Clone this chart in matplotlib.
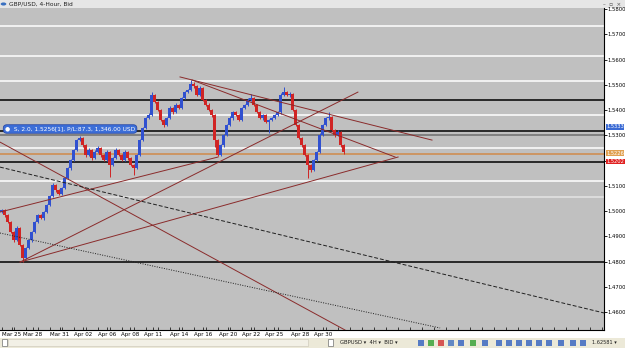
import matplotlib
matplotlib.use("Agg")
import matplotlib.pyplot as plt
import matplotlib.patches as mpatches
import matplotlib.transforms as mtransforms
import numpy as np

# ---------------- data ----------------
closes = [1.5004, 1.4984, 1.4956, 1.4917, 1.4885, 1.4933, 1.4865, 1.4814, 1.4854, 1.4885,
          1.4917, 1.4956, 1.4984, 1.4972, 1.4996, 1.5024, 1.5059, 1.5103, 1.5083, 1.5067,
          1.5091, 1.5131, 1.5170, 1.5202, 1.5242, 1.5281, 1.5289, 1.5261, 1.5222, 1.5242,
          1.5210, 1.5234, 1.5250, 1.5222, 1.5202, 1.5234, 1.5182, 1.5210, 1.5242, 1.5222,
          1.5202, 1.5234, 1.5210, 1.5182, 1.5170, 1.5222, 1.5281, 1.5329, 1.5368, 1.5380,
          1.5460, 1.5432, 1.5400, 1.5360, 1.5341, 1.5368, 1.5408, 1.5392, 1.5420, 1.5408,
          1.5448, 1.5471, 1.5479, 1.5503, 1.5495, 1.5459, 1.5487, 1.5440, 1.5420, 1.5400,
          1.5380, 1.5281, 1.5222, 1.5261, 1.5301, 1.5341, 1.5368, 1.5392, 1.5380, 1.5360,
          1.5408, 1.5420, 1.5440, 1.5448, 1.5420, 1.5392, 1.5368, 1.5380, 1.5352, 1.5360,
          1.5368, 1.5380, 1.5392, 1.5459, 1.5471, 1.5459, 1.5463, 1.5400, 1.5341, 1.5289,
          1.5261, 1.5222, 1.5182, 1.5162, 1.5202, 1.5234, 1.5301, 1.5341, 1.5368, 1.5372,
          1.5321, 1.5301, 1.5313, 1.5261, 1.5234]
first_open = 1.4996
up_wick_pips = [6, 4, 3, 5, 3, 8, 4, 3, 5, 4,
                3, 6, 4, 5, 3, 4, 6, 8, 5, 4,
                3, 4, 5, 3, 4, 6, 7, 5, 4, 6,
                5, 8, 6, 4, 3, 6, 5, 4, 7, 3,
                5, 6, 4, 3, 4, 3, 5, 4, 6, 8,
                10, 5, 4, 6, 3, 5, 7, 4, 6, 5,
                4, 6, 5, 16, 8, 6, 9, 5, 4, 6,
                3, 5, 4, 6, 5, 4, 7, 5, 6, 4,
                5, 4, 6, 15, 5, 4, 6, 5, 4, 3,
                5, 4, 6, 8, 20, 6, 9, 4, 3, 5,
                4, 6, 5, 4, 6, 5, 7, 4, 5, 20,
                6, 5, 8, 4, 5]
down_wick_pips = [4, 6, 5, 4, 6, 3, 5, 16, 4, 5,
                  6, 3, 5, 4, 6, 5, 3, 4, 6, 5,
                  4, 5, 3, 6, 4, 3, 5, 6, 8, 4,
                  6, 5, 4, 7, 5, 4, 47, 5, 3, 6,
                  4, 5, 6, 3, 27, 4, 3, 5, 4, 3,
                  4, 6, 5, 4, 8, 3, 5, 6, 4, 5,
                  3, 4, 5, 4, 6, 5, 4, 5, 6, 4,
                  8, 28, 5, 4, 6, 5, 4, 6, 5, 4,
                  3, 5, 4, 5, 6, 4, 5, 6, 4, 43,
                  5, 4, 3, 6, 4, 5, 6, 4, 5, 4,
                  6, 5, 51, 8, 5, 4, 3, 5, 4, 6,
                  5, 6, 4, 7, 8]

# horizontal level lines (price, colour)
h_levels = [1.5733, 1.5614, 1.5515, 1.5440, 1.5380, 1.5317, 1.5301,
            1.5250, 1.5226, 1.5194, 1.5119, 1.5055, 1.4798]
h_colors = ['white', 'white', 'white', 'black', 'white', 'black', '#6e6e6e',
            'white', '#d08a4a', 'black', 'white', '#e4e4e4', 'black']

# trend lines: (bar0, price0, bar1, price1)
trend_lines = [(59.5, 1.5531, 143.5, 1.5281),
               (63.5, 1.5519, 131.2, 1.5214),
               (6.2, 1.4798, 118.8, 1.5471),
               (6.2, 1.4798, 132.2, 1.5214),
               (-0.5, 1.4996, 72.2, 1.5214),
               (-0.5, 1.5273, 114.5, 1.4529)]
dashed_line = (-0.5, 1.5174, 201.0, 1.4596)
dotted_line = (-0.5, 1.4913, 146.2, 1.4537)

price_ticks = [1.46, 1.47, 1.48, 1.49, 1.50, 1.51, 1.52, 1.53, 1.54, 1.55, 1.56, 1.57, 1.58]
hidden_tick = 1.52   # covered by the price tags in the reference
date_labels = ['Mar 25', 'Mar 28', 'Mar 31', 'Apr 02', 'Apr 06', 'Apr 08', 'Apr 11',
               'Apr 14', 'Apr 16', 'Apr 20', 'Apr 22', 'Apr 25', 'Apr 28', 'Apr 30']
date_bars = [3.5, 10.5, 19.5, 27.2, 35.2, 42.8, 50.5, 59.2, 67.2, 75.5, 83.2, 90.8, 99.5, 107.2]

price_tags = [(1.5333, '1.5333', '#3a6ad4'), (1.5229, '1.5226', '#e0a050'), (1.5196, '1.5202', '#e02020')]
order_text = 'S, 2.0, 1.5256[1], P/L:87.3, 1,346.00 USD'

# ---------------- figure ----------------
W, H = 625, 348
fig = plt.figure(figsize=(W / 100, H / 100), dpi=100)
fig.patch.set_facecolor('white')

def fx(px):
    return px / W

def fy(py):
    return 1 - py / H

ax = fig.add_axes([0, fy(330), fx(604), (330 - 8) / H])
ax.set_facecolor('#c0c0c0')
ax.set_xlim(-0.5, 200.83)
ax.set_ylim(1.4529, 1.5804)

for lv, col in zip(h_levels, h_colors):
    ax.axhline(lv, color=col, lw=1.1, zorder=1)

opens = [first_open] + closes[:-1]
for k, (o, c) in enumerate(zip(opens, closes)):
    hi = max(o, c) + up_wick_pips[k] / 10000
    lo = min(o, c) - down_wick_pips[k] / 10000
    col = '#3050d0' if c >= o else '#d02424'
    ax.vlines(k, lo, hi, color=col, lw=0.7, zorder=2)
    body = c - o if abs(c - o) > 0.0002 else 0.0002
    ax.bar(k, body, bottom=o, width=0.7, color=col, lw=0, zorder=2)

for (b0, p0, b1, p1) in trend_lines:
    ax.plot([b0, b1], [p0, p1], color='#8a2b2b', lw=0.7, zorder=3)
ax.plot([dashed_line[0], dashed_line[2]], [dashed_line[1], dashed_line[3]],
        color='#202020', lw=0.7, ls=(0, (4, 2)), zorder=3)
ax.plot([dotted_line[0], dotted_line[2]], [dotted_line[1], dotted_line[3]],
        color='#202020', lw=0.7, ls=(0, (1, 1.5)), zorder=3)

# axes styling
ax.yaxis.tick_right()
ax.set_yticks(price_ticks)
ax.set_yticklabels(['' if abs(p - hidden_tick) < 1e-9 else '{:.4f}'.format(p) for p in price_ticks],
                   fontsize=3.8)
ax.tick_params(axis='y', length=2, width=0.6, pad=0.5, direction='out')
ax.set_xticks(date_bars)
ax.set_xticklabels(date_labels, fontsize=4)
ax.set_xticks(np.arange(0, 201, 4), minor=True)
ax.tick_params(axis='x', which='both', length=2, width=0.5, pad=1.5, direction='in')
for s in ['top', 'left']:
    ax.spines[s].set_visible(False)
for s in ['right', 'bottom']:
    ax.spines[s].set_linewidth(0.8)
    ax.spines[s].set_color('black')

trans = mtransforms.blended_transform_factory(ax.transAxes, ax.transData)
for p, t, col in price_tags:
    ax.text(1.004, p, t, transform=trans, fontsize=3.7, color='white', va='center', ha='left',
            bbox=dict(boxstyle='square,pad=0.06', fc=col, ec='none'), clip_on=False, zorder=6)

# order label
fig.text(fx(5), fy(129), '\u25cf  ' + order_text, fontsize=4.2, color='white', va='center', ha='left',
         bbox=dict(boxstyle='round,pad=0.3,rounding_size=0.6', fc='#3c6ed8', ec='#2040a0', lw=0.5), zorder=10)

# title bar
fig.add_artist(mpatches.Rectangle((0, fy(8)), 1, 8 / H, transform=fig.transFigure,
                                  fc='#e6e6e6', ec='none', zorder=0))
fig.add_artist(mpatches.Circle((fx(3.5), fy(4)), 2.8 / W, transform=fig.transFigure,
                               fc='#3a70c0', ec='none'))
fig.text(fx(9), fy(4), 'GBP/USD, 4-Hour, Bid', fontsize=4.2, color='#202020', va='center', ha='left')
fig.text(fx(603), fy(4), '\u2013  \u25ab  \u00d7', fontsize=4.0, color='#505050', va='center', ha='left')

# bottom toolbar
fig.add_artist(mpatches.Rectangle((0, 0), 1, 10 / H, transform=fig.transFigure,
                                  fc='#ece9d8', ec='none', zorder=0))
fig.add_artist(mpatches.Rectangle((fx(2), fy(346)), 5 / W, 7 / H, transform=fig.transFigure,
                                  fc='white', ec='#707070', lw=0.5))
fig.add_artist(mpatches.Rectangle((fx(8), fy(346)), 300 / W, 7 / H, transform=fig.transFigure,
                                  fc='#f2f0e6', ec='#c8c4b4', lw=0.4))
fig.add_artist(mpatches.Rectangle((fx(328), fy(346)), 5 / W, 7 / H, transform=fig.transFigure,
                                  fc='white', ec='#707070', lw=0.5))
fig.text(fx(340), fy(342.5), 'GBPUSD \u25be  4H \u25be  BID \u25be', fontsize=3.8, color='#202020',
         va='center', ha='left')
icon_x = [418, 428, 438, 448, 458, 470, 482, 496, 506, 516, 526, 536, 546, 558, 570, 580]
icon_c = ['#3060c0', '#30a030', '#d03030', '#4070c0', '#3060c0', '#30a030', '#3060c0', '#3060c0',
          '#3060c0', '#3060c0', '#3060c0', '#3060c0', '#3060c0', '#3060c0', '#3060c0', '#3060c0']
for xi, ci in zip(icon_x, icon_c):
    fig.add_artist(mpatches.Rectangle((fx(xi), fy(345.5)), 6 / W, 6 / H, transform=fig.transFigure,
                                      fc=ci, ec='none', alpha=0.8))
fig.text(fx(592), fy(342.5), '1.62581 \u25be', fontsize=3.6, color='#202020', va='center', ha='left')

fig.savefig('out.png', dpi=100)
